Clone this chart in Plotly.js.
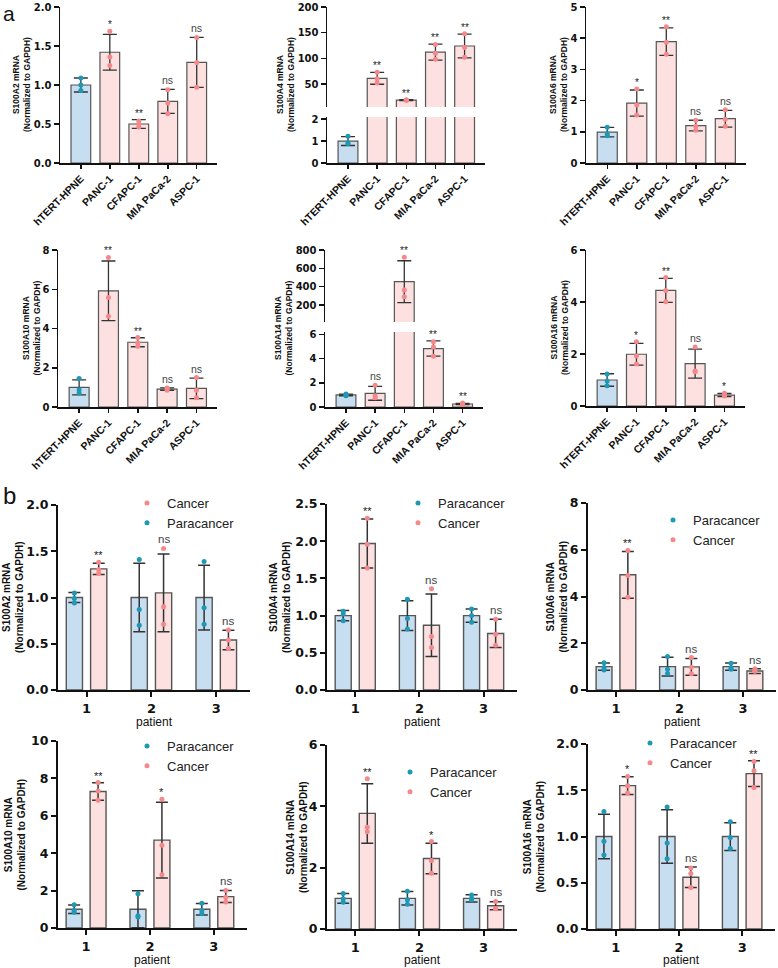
<!DOCTYPE html>
<html><head><meta charset="utf-8">
<script src="https://cdn.plot.ly/plotly-3.0.1.min.js"></script>
<style>html,body{margin:0;padding:0;background:#fff}#chart{width:778px;height:968px}</style>
</head><body><div id="chart"></div>
<script>
// ---------------- DATA ----------------
const cellLines = ['hTERT-HPNE', 'PANC-1', 'CFAPC-1', 'MIA PaCa-2', 'ASPC-1'];

const aS100A2_mean = [1.0, 1.42, 0.50, 0.79, 1.29];
const aS100A2_sd   = [0.09, 0.23, 0.055, 0.155, 0.32];
const aS100A2_pts  = [[1.09, 1.0, 0.93], [1.69, 1.36, 1.25], [0.54, 0.50, 0.46], [0.94, 0.77, 0.63], [1.61, 1.29, 0.97]];
const aS100A2_sig  = [null, '*', '**', 'ns', 'ns'];

const aS100A4_mean = [1.0, 61, 18.5, 112, 124];
const aS100A4_sd   = [0.2, 11.5, 0.8, 15.5, 23];
const aS100A4_pts  = [[1.22, 0.88, 0.92], [73, 60, 52], [19.3, 18.2, 18.5], [127, 110, 98], [148, 121, 102]];
const aS100A4_sig  = [null, '**', '**', '**', '**'];
const aS100A4_lowTicks = [0, 1, 2];
const aS100A4_highTicks = [50, 100, 150, 200];

const aS100A6_mean = [0.99, 1.92, 3.89, 1.20, 1.42];
const aS100A6_sd   = [0.15, 0.42, 0.44, 0.17, 0.27];
const aS100A6_pts  = [[1.15, 0.94, 0.87], [2.37, 1.86, 1.54], [4.37, 3.87, 3.49], [1.37, 1.18, 1.05], [1.71, 1.40, 1.18]];
const aS100A6_sig  = [null, '*', '**', 'ns', 'ns'];

const aS100A10_mean = [1.0, 5.92, 3.30, 0.91, 0.95];
const aS100A10_sd   = [0.38, 1.52, 0.23, 0.06, 0.52];
const aS100A10_pts  = [[1.45, 0.88, 0.71], [7.62, 5.58, 4.63], [3.54, 3.28, 3.10], [0.85, 0.95, 0.97], [1.50, 0.85, 0.47]];
const aS100A10_sig  = [null, '**', '**', 'ns', 'ns'];

const aS100A14_mean = [1.0, 1.13, 455, 4.83, 0.25];
const aS100A14_sd   = [0.07, 0.57, 228, 0.63, 0.05];
const aS100A14_pts  = [[0.94, 1.08, 0.98], [1.80, 0.77, 0.94], [720, 364, 291], [5.39, 4.97, 4.20], [0.20, 0.33, 0.22]];
const aS100A14_sig  = [null, 'ns', '**', '**', '**'];
const aS100A14_lowTicks = [0, 2, 4, 6];
const aS100A14_highTicks = [200, 400, 600, 800];

const aS100A16_mean = [1.0, 1.99, 4.45, 1.63, 0.42];
const aS100A16_sd   = [0.24, 0.42, 0.46, 0.56, 0.06];
const aS100A16_pts  = [[1.23, 0.96, 0.78], [2.47, 1.92, 1.62], [4.94, 4.44, 4.01], [2.27, 1.32, 1.35], [0.49, 0.40, 0.38]];
const aS100A16_sig  = [null, '*', '**', 'ns', '*'];

const patients = [1, 2, 3];
const patientLabels = ['1', '2', '3'];
const groupNames = ['Paracancer', 'Cancer'];

const bS100A2_paraMean = [1.0, 1.0, 1.0];
const bS100A2_paraSd   = [0.055, 0.37, 0.35];
const bS100A2_paraPts  = [[1.05, 0.99, 0.94], [1.41, 0.87, 0.70], [1.39, 0.89, 0.71]];
const bS100A2_canMean  = [1.31, 1.05, 0.54];
const bS100A2_canSd    = [0.06, 0.42, 0.105];
const bS100A2_canPts   = [[1.38, 1.30, 1.26], [1.53, 0.90, 0.71], [0.65, 0.54, 0.45]];
const bS100A2_sig      = ['**', 'ns', 'ns'];

const bS100A4_paraMean = [1.0, 1.0, 1.0];
const bS100A4_paraSd   = [0.07, 0.2, 0.09];
const bS100A4_paraPts  = [[1.06, 1.02, 0.93], [1.22, 0.96, 0.82], [1.09, 1.0, 0.91]];
const bS100A4_canMean  = [1.97, 0.87, 0.76];
const bS100A4_canSd    = [0.33, 0.42, 0.19];
const bS100A4_canPts   = [[2.31, 1.96, 1.64], [1.36, 0.72, 0.57], [0.95, 0.75, 0.60]];
const bS100A4_sig      = ['**', 'ns', 'ns'];

const bS100A6_paraMean = [1.0, 1.0, 1.0];
const bS100A6_paraSd   = [0.16, 0.4, 0.15];
const bS100A6_paraPts  = [[1.17, 0.86, 0.96], [1.43, 0.89, 0.71], [1.14, 0.89, 0.93]];
const bS100A6_canMean  = [4.93, 0.99, 0.81];
const bS100A6_canSd    = [1.0, 0.36, 0.1];
const bS100A6_canPts   = [[5.97, 4.90, 3.97], [1.39, 0.97, 0.69], [0.91, 0.81, 0.80]];
const bS100A6_sig      = ['**', 'ns', 'ns'];

const bS100A10_paraMean = [1.0, 1.0, 1.0];
const bS100A10_paraSd   = [0.23, 0.99, 0.31];
const bS100A10_paraPts  = [[1.25, 0.84, 0.94], [1.83, 0.59, 0.66], [1.33, 0.77, 0.93]];
const bS100A10_canMean  = [7.30, 4.70, 1.68];
const bS100A10_canSd    = [0.47, 2.03, 0.32];
const bS100A10_canPts   = [[7.78, 7.33, 6.83], [6.89, 4.43, 2.85], [2.01, 1.65, 1.39]];
const bS100A10_sig      = ['**', '*', 'ns'];

const bS100A14_paraMean = [1.0, 1.0, 1.0];
const bS100A14_paraSd   = [0.16, 0.22, 0.12];
const bS100A14_paraPts  = [[1.16, 0.87, 0.99], [1.23, 0.95, 0.81], [1.11, 0.95, 0.99]];
const bS100A14_canMean  = [3.77, 2.30, 0.76];
const bS100A14_canSd    = [0.97, 0.5, 0.13];
const bS100A14_canPts   = [[4.90, 3.32, 3.17], [2.85, 2.23, 1.82], [0.90, 0.67, 0.66]];
const bS100A14_sig      = ['**', '*', 'ns'];

const bS100A16_paraMean = [1.0, 1.0, 1.0];
const bS100A16_paraSd   = [0.24, 0.29, 0.15];
const bS100A16_paraPts  = [[1.27, 0.95, 0.80], [1.32, 0.93, 0.76], [1.16, 0.99, 0.87]];
const bS100A16_canMean  = [1.55, 0.56, 1.68];
const bS100A16_canSd    = [0.095, 0.11, 0.14];
const bS100A16_canPts   = [[1.65, 1.55, 1.47], [0.66, 0.60, 0.45], [1.81, 1.71, 1.53]];
const bS100A16_sig      = ['*', 'ns', '**'];

// ---------------- STYLE / LAYOUT ----------------
const W = 778, H = 968;
const BLUE = '#c7ddf0', PINK = '#fde0e0', OUT = '#555555', ERR = '#333333';
const TEAL = '#1f98b4', SALMON = '#f4888a';
const SANS = 'Liberation Sans, Arial, sans-serif';
const TICKFONT_A = {family: 'DejaVu Sans, sans-serif', size: 10, weight: 'bold', color: '#111'};
const XTICKFONT_A = {family: SANS, size: 10.5, weight: 'bold', color: '#111'};
const TICKFONT_B = {family: 'DejaVu Sans, sans-serif', size: 12.5, weight: 'bold', color: '#111'};
const XTICKFONT_B = {family: 'DejaVu Sans, sans-serif', size: 13, weight: 'bold', color: '#111'};
const fx = p => p / W;
const fy = p => 1 - p / H;

const aData = {
  S100A2: {mean: aS100A2_mean, sd: aS100A2_sd, pts: aS100A2_pts, sig: aS100A2_sig},
  S100A4: {mean: aS100A4_mean, sd: aS100A4_sd, pts: aS100A4_pts, sig: aS100A4_sig},
  S100A6: {mean: aS100A6_mean, sd: aS100A6_sd, pts: aS100A6_pts, sig: aS100A6_sig},
  S100A10: {mean: aS100A10_mean, sd: aS100A10_sd, pts: aS100A10_pts, sig: aS100A10_sig},
  S100A14: {mean: aS100A14_mean, sd: aS100A14_sd, pts: aS100A14_pts, sig: aS100A14_sig},
  S100A16: {mean: aS100A16_mean, sd: aS100A16_sd, pts: aS100A16_pts, sig: aS100A16_sig}
};
const bData = {
  S100A2: {pm: bS100A2_paraMean, ps: bS100A2_paraSd, pp: bS100A2_paraPts, cm: bS100A2_canMean, cs: bS100A2_canSd, cp: bS100A2_canPts, sig: bS100A2_sig},
  S100A4: {pm: bS100A4_paraMean, ps: bS100A4_paraSd, pp: bS100A4_paraPts, cm: bS100A4_canMean, cs: bS100A4_canSd, cp: bS100A4_canPts, sig: bS100A4_sig},
  S100A6: {pm: bS100A6_paraMean, ps: bS100A6_paraSd, pp: bS100A6_paraPts, cm: bS100A6_canMean, cs: bS100A6_canSd, cp: bS100A6_canPts, sig: bS100A6_sig},
  S100A10: {pm: bS100A10_paraMean, ps: bS100A10_paraSd, pp: bS100A10_paraPts, cm: bS100A10_canMean, cs: bS100A10_canSd, cp: bS100A10_canPts, sig: bS100A10_sig},
  S100A14: {pm: bS100A14_paraMean, ps: bS100A14_paraSd, pp: bS100A14_paraPts, cm: bS100A14_canMean, cs: bS100A14_canSd, cp: bS100A14_canPts, sig: bS100A14_sig},
  S100A16: {pm: bS100A16_paraMean, ps: bS100A16_paraSd, pp: bS100A16_paraPts, cm: bS100A16_canMean, cs: bS100A16_canSd, cp: bS100A16_canPts, sig: bS100A16_sig}
};

const aPanels = [
  {key: 'S100A2', xd: [60, 217], segs: [{d: [7, 163], r: [0, 2.0001], dtick: 0.5, fmt: '.1f'}], tx: 21},
  {key: 'S100A4', xd: [327, 485], segs: [{d: [117, 163], r: [0, 2.1], tickvals: aS100A4_lowTicks}, {d: [7, 107], r: [5.2, 200.01], tickvals: aS100A4_highTicks}], tx: 285},
  {key: 'S100A6', xd: [586, 746], segs: [{d: [7, 163], r: [0, 5.001], dtick: 1}], tx: 558},
  {key: 'S100A10', xd: [58, 217], segs: [{d: [250, 407], r: [0, 8.001], dtick: 2}], tx: 31},
  {key: 'S100A14', xd: [325, 483], segs: [{d: [332, 407], r: [0, 6.2], tickvals: aS100A14_lowTicks}, {d: [250, 322], r: [15, 800.1], tickvals: aS100A14_highTicks}], tx: 283},
  {key: 'S100A16', xd: [586, 745], segs: [{d: [250, 406], r: [0, 6.001], dtick: 2}], tx: 559}
];
const bPanels = [
  {key: 'S100A2', xd: [58, 250], yd: [505, 690], r: [0, 2.0001], dtick: 0.5, fmt: '.1f', tx: 12.5, leg: {x: 147, y: 503, order: 'reversed'}, xt: 722},
  {key: 'S100A4', xd: [327, 517], yd: [504, 690], r: [0, 2.5001], dtick: 0.5, fmt: '.1f', tx: 280, leg: {x: 418, y: 503, order: 'normal'}, xt: 722},
  {key: 'S100A6', xd: [588, 776], yd: [503, 690], r: [0, 8.001], dtick: 2, tx: 556, leg: {x: 673, y: 520, order: 'normal'}, xt: 722},
  {key: 'S100A10', xd: [58, 247], yd: [741, 928], r: [0, 10.001], dtick: 2, tx: 14, leg: {x: 147, y: 746, order: 'normal'}, xt: 960},
  {key: 'S100A14', xd: [327, 517], yd: [745, 929], r: [0, 6.001], dtick: 2, tx: 297, leg: {x: 410, y: 772, order: 'normal'}, xt: 960},
  {key: 'S100A16', xd: [588, 775], yd: [744, 929], r: [0, 2.0001], dtick: 0.5, fmt: '.1f', tx: 533, leg: {x: 650, y: 743, order: 'normal'}, xt: 960}
];

const BAR_SHIFT = 0.1875, BAR_W = 0.25;

const layout = {
  width: W, height: H, margin: {l: 0, r: 0, t: 0, b: 0},
  paper_bgcolor: '#fff', plot_bgcolor: 'rgba(0,0,0,0)',
  barmode: 'overlay', showlegend: true, hovermode: false,
  font: {family: SANS, color: '#111'},
  annotations: []
};
const traces = [];
let nx = 0, ny = 0;
function addX(o) { nx++; const n = nx === 1 ? '' : nx; layout['xaxis' + n] = o; return 'x' + n; }
function addY(o) { ny++; const n = ny === 1 ? '' : ny; layout['yaxis' + n] = o; return 'y' + n; }
const axKey = id => id[0] + 'axis' + id.slice(1);

// ---- panel a ----
aPanels.forEach(p => {
  const d = aData[p.key];
  const xid = addX({domain: [fx(p.xd[0]), fx(p.xd[1])], range: [-0.72, 4.7], type: 'category',
    categoryorder: 'array', categoryarray: cellLines, tickangle: -45, ticks: 'outside', ticklen: 4,
    tickwidth: 1.5, tickcolor: '#111', showline: true, linecolor: '#111', linewidth: 1.5,
    tickfont: XTICKFONT_A, showgrid: false, zeroline: false, fixedrange: true});
  const yids = [];
  p.segs.forEach((s, k) => {
    const yo = {domain: [fy(s.d[1]), fy(s.d[0])], range: s.r, anchor: xid, showline: true,
      linecolor: '#111', linewidth: 1.5, ticks: 'outside', ticklen: 5, tickwidth: 1.5, tickcolor: '#111',
      tickfont: TICKFONT_A, showgrid: false, zeroline: false, fixedrange: true};
    if (s.tickvals) { yo.tickmode = 'array'; yo.tickvals = s.tickvals; }
    else { yo.tick0 = 0; yo.dtick = s.dtick; }
    if (s.fmt) yo.tickformat = s.fmt;
    const yid = addY(yo);
    yids.push(yid);
    if (k === 0) layout[axKey(xid)].anchor = yid;
    // on an upper (broken-axis) segment, marks that lie below its range are left out
    const segMean = d.mean.map(v => v > s.r[0] ? v : null);
    traces.push({type: 'bar', x: cellLines, y: segMean, xaxis: xid, yaxis: yid, width: 0.68,
      marker: {color: d.mean.map((_, i) => i === 0 ? BLUE : PINK), line: {color: OUT, width: 1.2}},
      showlegend: false, hoverinfo: 'skip'});
    traces.push({type: 'scatter', mode: 'markers', x: cellLines, y: segMean, xaxis: xid, yaxis: yid,
      marker: {size: 1, opacity: 0}, cliponaxis: true,
      error_y: {type: 'data', array: d.sd, visible: true, color: ERR, thickness: 1.3, width: 7},
      showlegend: false, hoverinfo: 'skip'});
    const xs = [], ys = [], cs = [];
    d.pts.forEach((arr, i) => arr.forEach(v => {
      if (v < s.r[0] || v > s.r[1]) return;
      xs.push(cellLines[i]); ys.push(v); cs.push(i === 0 ? TEAL : SALMON);
    }));
    traces.push({type: 'scatter', mode: 'markers', x: xs, y: ys, xaxis: xid, yaxis: yid,
      marker: {color: cs, size: 5}, showlegend: false, hoverinfo: 'skip'});
  });
  d.sig.forEach((s, i) => {
    if (!s) return;
    const top = Math.max(d.mean[i] + d.sd[i], ...d.pts[i]);
    const seg = (p.segs.length > 1 && top > p.segs[0].r[1]) ? 1 : 0;
    layout.annotations.push({xref: xid, yref: yids[seg], x: cellLines[i], y: top, yanchor: 'bottom',
      yshift: s === 'ns' ? 1 : -1, text: s, showarrow: false,
      font: {family: SANS, size: s === 'ns' ? 10.5 : 10, color: s === 'ns' ? '#444' : '#222'}});
  });
  const segTop = Math.min(...p.segs.map(s => s.d[0])), segBot = Math.max(...p.segs.map(s => s.d[1]));
  layout.annotations.push({xref: 'paper', yref: 'paper', x: fx(p.tx), y: fy((segTop + segBot) / 2),
    xanchor: 'center', yanchor: 'middle', textangle: -90, showarrow: false,
    text: p.key + ' mRNA<br>(Normalized to GAPDH)',
    font: {family: SANS, size: 8.5, weight: 'bold', color: '#111'}});
});

// ---- panel b ----
bPanels.forEach((p, idx) => {
  const d = bData[p.key];
  const legId = idx === 0 ? 'legend' : 'legend' + (idx + 1);
  const xid = addX({domain: [fx(p.xd[0]), fx(p.xd[1])], range: [0.56, 3.52], tickmode: 'array',
    tickvals: patients, ticktext: patientLabels, ticks: 'outside', ticklen: 5, tickwidth: 2, tickcolor: '#111',
    showline: true, linecolor: '#111', linewidth: 2, tickfont: XTICKFONT_B, showgrid: false, zeroline: false, fixedrange: true});
  const yid = addY({domain: [fy(p.yd[1]), fy(p.yd[0])], range: p.r, anchor: xid, tick0: 0, dtick: p.dtick,
    tickformat: p.fmt || '', showline: true, linecolor: '#111', linewidth: 2, ticks: 'outside', ticklen: 5,
    tickwidth: 2, tickcolor: '#111', tickfont: TICKFONT_B, showgrid: false, zeroline: false, fixedrange: true});
  layout[axKey(xid)].anchor = yid;
  const groups = [
    {name: groupNames[0], m: d.pm, s: d.ps, p: d.pp, fill: BLUE, dot: TEAL, shift: -BAR_SHIFT},
    {name: groupNames[1], m: d.cm, s: d.cs, p: d.cp, fill: PINK, dot: SALMON, shift: BAR_SHIFT}
  ];
  groups.forEach(g => {
    traces.push({type: 'bar', x: patients, y: g.m, xaxis: xid, yaxis: yid, offset: g.shift - BAR_W / 2, width: BAR_W,
      marker: {color: g.fill, line: {color: OUT, width: 1.4}},
      error_y: {type: 'data', array: g.s, visible: true, color: ERR, thickness: 1.5, width: 6},
      showlegend: false, hoverinfo: 'skip'});
  });
  groups.forEach(g => {
    const xs = [], ys = [];
    g.p.forEach((arr, i) => arr.forEach(v => { xs.push(patients[i] + g.shift); ys.push(v); }));
    traces.push({type: 'scatter', mode: 'markers', x: xs, y: ys, xaxis: xid, yaxis: yid, name: g.name,
      marker: {color: g.dot, size: 5}, showlegend: true, legend: legId, hoverinfo: 'skip'});
  });
  layout[legId] = {x: fx(p.leg.x - 20), y: fy(p.leg.y - 15), xanchor: 'left', yanchor: 'top',
    bgcolor: 'rgba(0,0,0,0)', borderwidth: 0, traceorder: p.leg.order, tracegroupgap: 0,
    font: {family: SANS, size: 13, color: '#222'}};
  d.sig.forEach((s, i) => {
    if (!s) return;
    const top = Math.max(d.cm[i] + d.cs[i], ...d.cp[i]);
    layout.annotations.push({xref: xid, yref: yid, x: patients[i] + BAR_SHIFT, y: top, yanchor: 'bottom',
      yshift: s === 'ns' ? 1 : -1, text: s, showarrow: false,
      font: {family: SANS, size: s === 'ns' ? 11.5 : 11, color: s === 'ns' ? '#444' : '#222'}});
  });
  layout.annotations.push({xref: 'paper', yref: 'paper', x: fx(p.tx), y: fy((p.yd[0] + p.yd[1]) / 2),
    xanchor: 'center', yanchor: 'middle', textangle: -90, showarrow: false,
    text: p.key + ' mRNA<br>(Normalized to GAPDH)',
    font: {family: SANS, size: 10, weight: 'bold', color: '#111'}});
  layout.annotations.push({xref: 'paper', yref: 'paper', x: fx((p.xd[0] + p.xd[1]) / 2), y: fy(p.xt),
    xanchor: 'center', yanchor: 'middle', showarrow: false, text: 'patient',
    font: {family: SANS, size: 12, color: '#111'}});
});

// panel letters
layout.annotations.push({xref: 'paper', yref: 'paper', x: fx(9), y: 1, xanchor: 'center', yanchor: 'top',
  showarrow: false, text: 'a', font: {family: SANS, size: 21, color: '#111'}});
layout.annotations.push({xref: 'paper', yref: 'paper', x: fx(9), y: fy(496), xanchor: 'center', yanchor: 'middle',
  showarrow: false, text: 'b', font: {family: SANS, size: 24, color: '#111'}});

Plotly.newPlot('chart', traces, layout, {displayModeBar: false, staticPlot: true});
</script>
</body></html>
